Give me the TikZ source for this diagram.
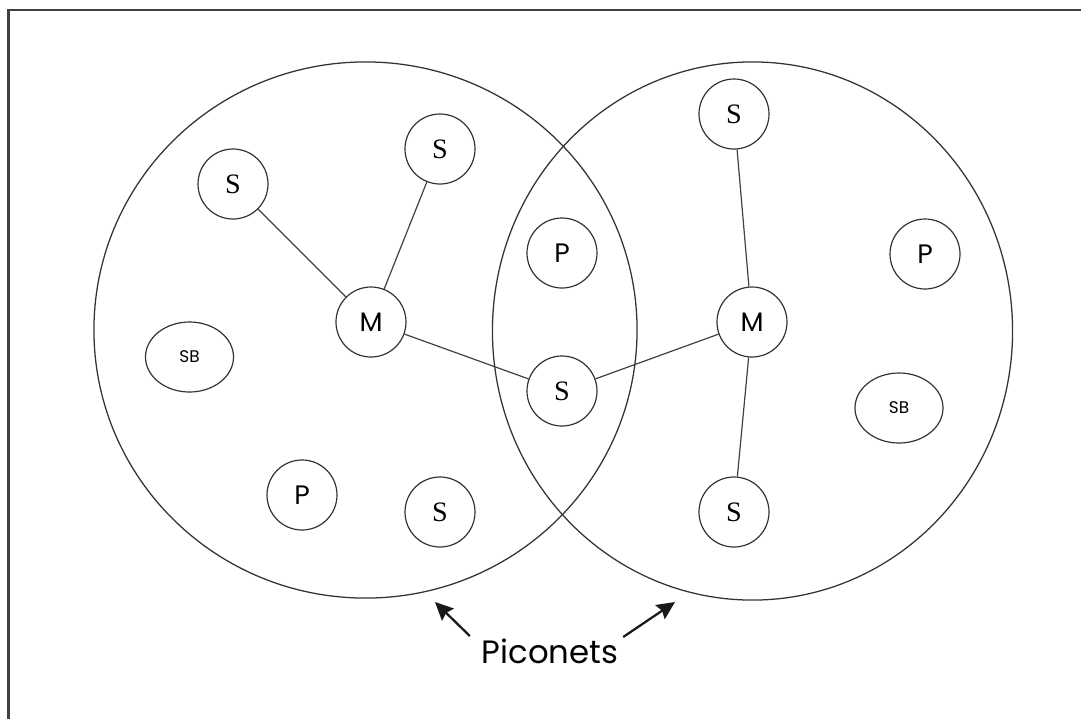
\documentclass[tikz,border=0pt]{standalone}
\usepackage{fontspec}
\newfontfamily\gothic{Poppins}
\newfontfamily\romanS{Liberation Serif}
\usetikzlibrary{shapes.geometric,arrows.meta}

\begin{document}
\begin{tikzpicture}[
  x=0.025cm, y=-0.025cm,
  dev/.style={draw=black!80, circle, minimum size=1.75cm, inner sep=0pt, line width=0.85pt, font=\gothic\fontsize{19}{21}\selectfont},
  slave/.style={dev, font=\romanS\fontsize{20}{22}\selectfont},
  sb/.style={draw=black!80, ellipse, minimum width=2.2cm, minimum height=1.75cm, inner sep=0pt, line width=0.85pt, font=\gothic\fontsize{12}{14}\selectfont},
  link/.style={draw=black!75, line width=0.85pt},
  net/.style={draw=black!80, line width=0.9pt},
  arrow/.style={-{Stealth[length=0.45cm, width=0.42cm, inset=0.06cm]}, line width=1.6pt, black!90}
]
\useasboundingbox (0,0) rectangle (1081,719);
\draw[line width=1.8pt, black!75] (8.5,719) -- (8.5,10) -- (1081,10);

% the two piconets
\draw[net] (365.5,330) ellipse [x radius=6.7875cm, y radius=6.7cm];
\draw[net] (752.5,331) ellipse [x radius=6.5cm, y radius=6.725cm];

% left piconet
\node[slave] (sA) at (233,184) {S};
\node[slave] (sB) at (440,149) {S};
\node[dev] (mL) at (371,322) {M};
\node[sb] (sbL) at (189.5,357) {SB};
\node[dev] (pL) at (302,495) {P};
\node[slave] (sC) at (440,512) {S};

% shared part
\node[dev] (pM) at (562,253) {P};
\node[slave] (sBridge) at (562,391) {S};

% right piconet
\node[slave] (sD) at (734,114) {S};
\node[dev] (mR) at (752,322) {M};
\node[dev] (pR) at (925,254) {P};
\node[sb] (sbR) at (899,408) {SB};
\node[slave] (sE) at (734,512) {S};

\draw[link] (sA) -- (mL);
\draw[link] (sB) -- (mL);
\draw[link] (mL) -- (sBridge);
\draw[link] (sBridge) -- (mR);
\draw[link] (sD) -- (mR);
\draw[link] (mR) -- (sE);

% label
\node[font=\gothic\fontsize{23}{26}\selectfont] (lbl) at (550,651) {Piconets};
\coordinate (tipL) at (435,602);
\coordinate (tipR) at (675,602);
\draw[arrow] ([shift={(-7,-15)}]lbl.west) -- (tipL);
\draw[arrow] ([shift={(0,-14)}]lbl.east) -- (tipR);
\end{tikzpicture}
\end{document}
